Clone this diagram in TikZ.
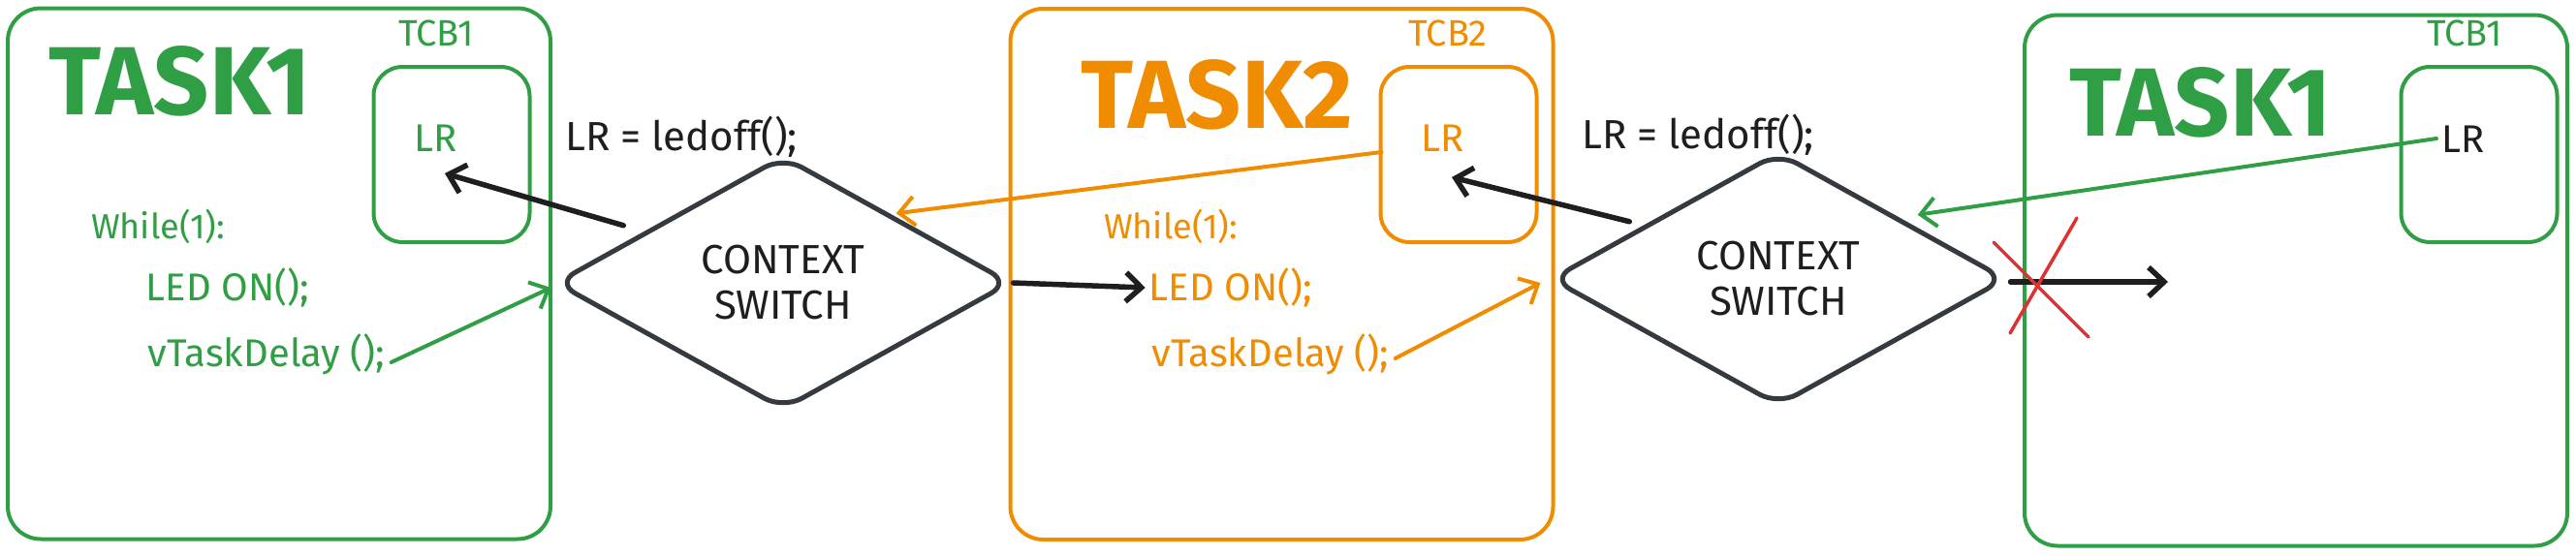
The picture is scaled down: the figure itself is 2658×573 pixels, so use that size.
\documentclass[tikz,border=0pt]{standalone}
\usepackage{fontspec}
\setmainfont{Fira Sans}
\usetikzlibrary{shapes.geometric,arrows.meta,calc}
\definecolor{cgreen}{HTML}{2F9E44}
\definecolor{corange}{HTML}{F08C00}
\definecolor{cblack}{HTML}{1E1E1E}
\definecolor{cdia}{HTML}{343A40}
\definecolor{cred}{HTML}{E03131}
\tikzset{
  taskbox/.style={draw, line width=4pt, rounded corners=34pt, minimum width=560pt, minimum height=548pt, inner sep=0pt},
  tcbbox/.style={draw, line width=4pt, rounded corners=30pt, minimum width=161pt, minimum height=181pt, inner sep=0pt},
  bigtitle/.style={font=\fontsize{100}{100}\selectfont\bfseries, inner sep=0pt},
  tcblabel/.style={font=\fontsize{38}{40}\selectfont, inner sep=0pt},
  lrtxt/.style={font=\fontsize{40}{42}\selectfont, inner sep=0pt},
  ledofftxt/.style={font=\fontsize{42}{44}\selectfont, inner sep=0pt},
  codetxt/.style={font=\fontsize{40}{42}\selectfont, inner sep=0pt},
  whiletxt/.style={font=\fontsize{36}{38}\selectfont, inner sep=0pt},
  csdiamond/.style={draw=cdia, line width=5pt, shape=diamond, minimum width=470pt, minimum height=262pt, inner sep=0pt, rounded corners=22pt, align=center, text=cblack, font=\fontsize{42}{47}\selectfont},
  arr/.style={-{Straight Barb[length=16pt,width=30pt]}, line cap=round},
  blackarr/.style={arr, draw=cblack, line width=5.5pt},
  colarr/.style={arr, line width=4pt},
  xline/.style={draw=cred, line width=3.5pt, line cap=round},
}
\begin{document}
\begin{tikzpicture}[x=1pt,y=-1pt]
\useasboundingbox (0,0) rectangle (2658,573);
% task boxes
\node[taskbox, draw=cgreen] (task1a) at (288,282.5) {};
\node[taskbox, draw=corange] (task2) at (1322.5,283) {};
\node[taskbox, draw=cgreen] (task1b) at (2369,289.5) {};
% tcb boxes
\node[tcbbox, draw=cgreen] (tcb1a) at (466,159.5) {};
\node[tcbbox, draw=corange] (tcb2) at (1505,159.5) {};
\node[tcbbox, draw=cgreen] (tcb1b) at (2558,159.5) {};
% titles
\node[bigtitle, text=cgreen] (t1a) at (186,84) {TASK1};
\node[bigtitle, text=corange] (t2) at (1256,98) {TASK2};
\node[bigtitle, text=cgreen] (t1b) at (2271,106) {TASK1};
% tcb labels
\node[tcblabel, text=cgreen] (l1a) at (450,34) {TCB1};
\node[tcblabel, text=corange] (l2) at (1494,34) {TCB2};
\node[tcblabel, text=cgreen] (l1b) at (2543,34) {TCB1};
% LR
\node[lrtxt, text=cgreen] (lr1) at (450,143) {LR};
\node[lrtxt, text=corange] (lr2) at (1489,143) {LR};
\node[lrtxt, text=cblack] (lr3) at (2542,144) {LR};
% ledoff
\node[ledofftxt, text=cblack] (ledoff1) at (703,141) {LR = ledoff();};
\node[ledofftxt, text=cblack] (ledoff2) at (1752,139) {LR = ledoff();};
% code task1
\node[whiletxt, text=cgreen] (wh1) at (163,234) {While(1):};
\node[codetxt, text=cgreen] (led1) at (235,297) {LED ON();};
\node[codetxt, text=cgreen] (vd1) at (275,366) {vTaskDelay ();};
% code task2
\node[whiletxt, text=corange] (wh2) at (1208,234) {While(1):};
\node[codetxt, text=corange] (led2) at (1270,297) {LED ON();};
\node[codetxt, text=corange] (vd2) at (1311,366) {vTaskDelay ();};
% diamonds
\node[csdiamond] (cs1) at (808,292) {CONTEXT\\SWITCH};
\node[csdiamond] (cs2) at (1835,288) {CONTEXT\\SWITCH};
\coordinate (free) at (2237,291);
% connectors
\draw[blackarr] ($(cs1.north west)+(-46,7.5)$) -- ($(lr1.center)+(9,36)$);
\draw[colarr, draw=cgreen] ($(vd1.east)+(6,8)$) -- ($(cs1.west)+(-2,5)$);
\draw[blackarr] (cs1.east) -- ([xshift=-4pt]led2.west);
\draw[colarr, draw=corange] ($(tcb2.west)+(3,-2.5)$) -- ($(cs1.north east)+(-2,-5)$);
\draw[colarr, draw=corange] ($(vd2.east)+(6,4)$) -- ($(cs2.west)+(-8,4)$);
\draw[blackarr] ($(cs2.north west)+(-35,7.5)$) -- ($(lr2.center)+(9,40)$);
\draw[colarr, draw=cgreen] ($(lr3.center)+(-28,-1)$) -- ($(cs2.north east)+(25,0.5)$);
\draw[blackarr] ($(cs2.east)+(2,3)$) -- (free);
% red cross
\draw[xline] (2057,250) -- (2155,348);
\draw[xline] (2143,225) -- (2074,344);
\end{tikzpicture}
\end{document}
